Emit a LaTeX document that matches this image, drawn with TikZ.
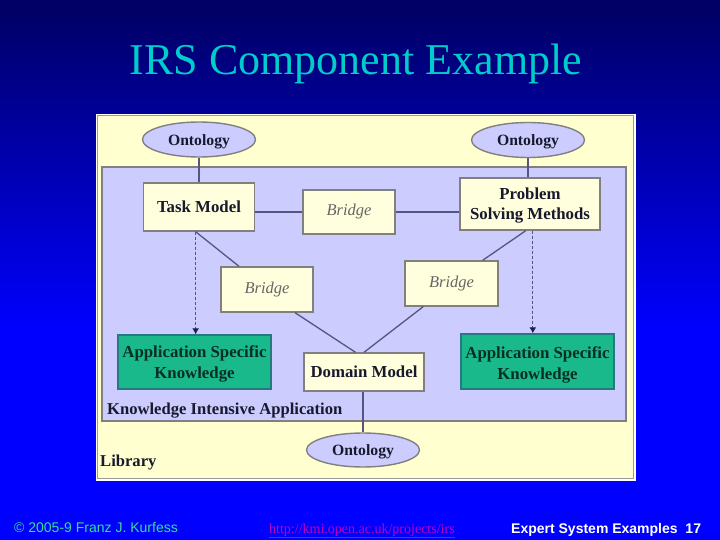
\documentclass[tikz,border=0pt]{standalone}
\usepackage{fontspec}
\setmainfont{Liberation Serif}
\newfontfamily\arialfont{Liberation Sans}
\usetikzlibrary{calc,arrows.meta,shapes.geometric}
\definecolor{bgtop}{RGB}{0,0,102}
\definecolor{bgmid}{RGB}{0,0,255}
\definecolor{titlecol}{RGB}{0,204,204}
\definecolor{panelyellow}{RGB}{255,255,208}
\definecolor{lav}{RGB}{204,204,255}
\definecolor{edgegrey}{RGB}{128,128,128}
\definecolor{boxyellow}{RGB}{255,255,222}
\definecolor{teal}{RGB}{26,185,140}
\definecolor{tealedge}{RGB}{40,120,130}
\definecolor{darktext}{RGB}{25,25,45}
\definecolor{linecol}{RGB}{85,85,125}
\definecolor{tipcol}{RGB}{30,30,80}
\definecolor{footcol}{RGB}{50,225,150}
\definecolor{linkcol}{RGB}{190,0,190}
\newcommand{\lowerstrut}{\rule{0pt}{19pt}}
\newcommand{\lowstrut}{\rule{0pt}{15pt}}
\tikzset{
  pbox/.style={draw=edgegrey,line width=1.4pt,fill=boxyellow,inner sep=0pt,align=center,text=darktext,font=\fontsize{16.8}{20}\selectfont\bfseries},
  bridgebox/.style={pbox,text=black!60,font=\fontsize{16.5}{18}\selectfont\itshape},
  askbox/.style={draw=tealedge,line width=1.4pt,fill=teal,inner sep=0pt,align=center,text=black!75!teal,font=\fontsize{16.8}{21}\selectfont\bfseries},
  onto/.style={ellipse,draw=edgegrey,line width=1.4pt,fill=lav,inner sep=0pt,text=darktext,font=\fontsize{15.7}{18}\selectfont\bfseries},
  lowtext/.style={execute at begin node=\rule{0pt}{15pt}},
  conn/.style={draw=linecol,line width=1.3pt},
  dashconn/.style={draw=linecol,line width=1pt,densely dashed,-{Latex[length=6pt,width=7pt,color=tipcol]}},
  areatext/.style={anchor=base west,inner sep=0pt,text=darktext,font=\fontsize{16.6}{18}\selectfont\bfseries},
  foot/.style={anchor=base west,inner sep=0pt}
}
\begin{document}
\begin{tikzpicture}[x=1pt,y=-1pt]
\useasboundingbox (0,0) rectangle (720,540);
\fill[bgtop] (0,0) rectangle (720,10);
\shade[top color=bgtop,bottom color=bgmid] (0,10) rectangle (720,330);
\fill[bgmid] (0,330) rectangle (720,540);
% panels
\fill[white] (96,114) rectangle (636,481);
\draw[draw=edgegrey!80,fill=panelyellow,line width=1pt] (97.5,115.5) rectangle (633.5,478);
\draw[draw=edgegrey,fill=lav,line width=1.2pt] (102,167) rectangle (626,421);
% title
\node[anchor=base,inner sep=0pt,text=titlecol,font=\fontsize{44}{48}\selectfont] (title) at (356,75) {IRS Component Example};
% nodes
\node[onto,lowtext,minimum width=113pt,minimum height=35pt] (o1) at (199,139.5) {Ontology};
\node[onto,lowtext,minimum width=113pt,minimum height=35pt] (o2) at (528,140) {Ontology};
\node[onto,lowtext,minimum width=113pt,minimum height=34pt] (o3) at (363,450) {Ontology};
\node[pbox,minimum width=111pt,minimum height=48pt] (task) at (199,207) {Task Model};
\node[bridgebox,minimum width=92pt,minimum height=44pt] (b1) at (349,212) {Bridge};
\node[pbox,minimum width=140pt,minimum height=52pt] (psm) at (530,204) {\lowstrut Problem\\Solving Methods};
\node[bridgebox,minimum width=92pt,minimum height=45pt] (b2) at (267,289.5) {Bridge};
\node[bridgebox,minimum width=93pt,minimum height=45pt] (b3) at (451.5,283.5) {Bridge};
\node[askbox,minimum width=153pt,minimum height=54pt] (a1) at (194.5,362) {\lowstrut Application Specific\\Knowledge};
\node[askbox,minimum width=153pt,minimum height=55pt] (a2) at (537.5,361.5) {\lowerstrut Application Specific\\Knowledge};
\node[pbox,minimum width=120pt,minimum height=38pt] (dm) at (364,372) {Domain Model};
\node[areatext] (kia) at (107,414) {Knowledge Intensive Application};
\node[areatext] (lib) at (100,466) {Library};
% connectors
\draw[conn] (o1.south) -- (task.north);
\draw[conn] (o2.south) -- (o2.south |- psm.north);
\draw[conn] (dm.south -| o3.north) -- (o3.north);
\draw[conn] (task.east |- b1.west) -- (b1.west);
\draw[conn] (b1.east) -- (psm.west |- b1.east);
\draw[conn] ($(task.south west)!0.47!(task.south east)$) -- ($(b2.north west)!0.2!(b2.north east)$);
\draw[conn] ($(psm.south west)!0.47!(psm.south east)$) -- ($(b3.north west)!0.83!(b3.north east)$);
\draw[conn] ($(b2.south west)!0.8!(b2.south east)$) -- ($(dm.north west)!0.43!(dm.north east)$);
\draw[conn] ($(b3.south west)!0.2!(b3.south east)$) -- ($(dm.north west)!0.5!(dm.north east)$);
\draw[dashconn] ($(task.south west)!0.47!(task.south east)$) -- (a1.north -| {$(task.south west)!0.47!(task.south east)$});
\draw[dashconn] ($(psm.south west)!0.52!(psm.south east)$) -- (a2.north -| {$(psm.south west)!0.52!(psm.south east)$});
% footer
\node[foot,text=footcol,font=\arialfont\fontsize{14}{16}\selectfont] (f1) at (14,532) {© 2005-9 Franz J. Kurfess};
\node[foot,text=linkcol,font=\fontsize{14}{16}\selectfont] (f2) at (269,533) {\underline{http://kmi.open.ac.uk/projects/irs}};
\node[foot,text=white,font=\arialfont\fontsize{14}{16}\selectfont\bfseries] (f3) at (511,533) {Expert System Examples\ \ 17};
\end{tikzpicture}
\end{document}
